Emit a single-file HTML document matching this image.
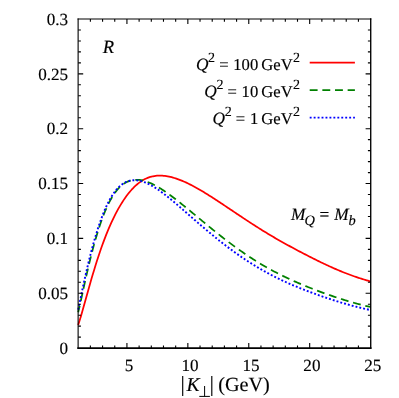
<!DOCTYPE html>
<html><head><meta charset="utf-8"><style>
html,body{margin:0;padding:0;background:#fff;}
svg{display:block;font-family:"Liberation Serif",serif;text-rendering:geometricPrecision;will-change:transform;}
</style></head><body>
<svg width="399" height="398" viewBox="0 0 399 398">
<rect width="399" height="398" fill="#fff"/>
<g fill="none" stroke-width="1.75" stroke-linejoin="round">
<path d="M78.20,324.94 L79.54,320.84 L80.87,316.42 L82.21,311.80 L83.54,307.06 L84.88,302.26 L86.21,297.45 L87.55,292.66 L88.88,287.91 L90.22,283.22 L91.55,278.61 L92.89,274.08 L94.22,269.65 L95.56,265.32 L96.89,261.09 L98.23,256.96 L99.56,252.95 L100.90,249.06 L102.23,245.29 L103.57,241.63 L104.90,238.10 L106.24,234.68 L107.57,231.38 L108.91,228.19 L110.24,225.12 L111.58,222.16 L112.91,219.30 L114.25,216.56 L115.58,213.92 L116.92,211.38 L118.25,208.94 L119.59,206.60 L120.93,204.35 L122.26,202.20 L123.60,200.14 L124.93,198.18 L126.27,196.30 L127.60,194.52 L128.94,192.83 L130.27,191.23 L131.61,189.71 L132.94,188.28 L134.28,186.94 L135.61,185.68 L136.95,184.50 L138.28,183.40 L139.62,182.39 L140.95,181.45 L142.29,180.59 L143.62,179.80 L144.96,179.08 L146.29,178.44 L147.63,177.87 L148.96,177.37 L150.30,176.94 L151.63,176.57 L152.97,176.27 L154.30,176.02 L155.64,175.83 L156.97,175.70 L158.31,175.62 L159.64,175.59 L160.98,175.61 L162.32,175.67 L163.65,175.78 L164.99,175.92 L166.32,176.11 L167.66,176.33 L168.99,176.59 L170.33,176.89 L171.66,177.22 L173.00,177.58 L174.33,177.97 L175.67,178.39 L177.00,178.84 L178.34,179.31 L179.67,179.81 L181.01,180.34 L182.34,180.88 L183.68,181.45 L185.01,182.05 L186.35,182.66 L187.68,183.29 L189.02,183.94 L190.35,184.61 L191.69,185.30 L193.02,186.00 L194.36,186.72 L195.69,187.46 L197.03,188.20 L198.36,188.96 L199.70,189.74 L201.03,190.52 L202.37,191.31 L203.71,192.12 L205.04,192.93 L206.38,193.75 L207.71,194.58 L209.05,195.42 L210.38,196.26 L211.72,197.11 L213.05,197.97 L214.39,198.83 L215.72,199.70 L217.06,200.57 L218.39,201.44 L219.73,202.32 L221.06,203.20 L222.40,204.09 L223.73,204.97 L225.07,205.86 L226.40,206.75 L227.74,207.65 L229.07,208.54 L230.41,209.43 L231.74,210.33 L233.08,211.22 L234.41,212.12 L235.75,213.02 L237.08,213.91 L238.42,214.80 L239.75,215.70 L241.09,216.59 L242.42,217.47 L243.76,218.36 L245.09,219.24 L246.43,220.12 L247.77,221.00 L249.10,221.87 L250.44,222.75 L251.77,223.61 L253.11,224.48 L254.44,225.33 L255.78,226.19 L257.11,227.04 L258.45,227.88 L259.78,228.73 L261.12,229.56 L262.45,230.39 L263.79,231.22 L265.12,232.04 L266.46,232.85 L267.79,233.66 L269.13,234.47 L270.46,235.26 L271.80,236.06 L273.13,236.84 L274.47,237.62 L275.80,238.40 L277.14,239.17 L278.47,239.94 L279.81,240.70 L281.14,241.45 L282.48,242.20 L283.81,242.95 L285.15,243.69 L286.48,244.43 L287.82,245.16 L289.16,245.89 L290.49,246.62 L291.83,247.34 L293.16,248.06 L294.50,248.78 L295.83,249.49 L297.17,250.20 L298.50,250.90 L299.84,251.60 L301.17,252.30 L302.51,253.00 L303.84,253.69 L305.18,254.38 L306.51,255.07 L307.85,255.75 L309.18,256.43 L310.52,257.11 L311.85,257.79 L313.19,258.46 L314.52,259.13 L315.86,259.80 L317.19,260.46 L318.53,261.12 L319.86,261.77 L321.20,262.42 L322.53,263.06 L323.87,263.70 L325.20,264.33 L326.54,264.96 L327.87,265.58 L329.21,266.20 L330.55,266.81 L331.88,267.41 L333.22,268.00 L334.55,268.59 L335.89,269.17 L337.22,269.75 L338.56,270.31 L339.89,270.87 L341.23,271.42 L342.56,271.96 L343.90,272.50 L345.23,273.02 L346.57,273.54 L347.90,274.05 L349.24,274.55 L350.57,275.04 L351.91,275.53 L353.24,276.00 L354.58,276.47 L355.91,276.93 L357.25,277.38 L358.58,277.82 L359.92,278.26 L361.25,278.69 L362.59,279.11 L363.92,279.52 L365.26,279.93 L366.59,280.32 L367.93,280.71 L369.26,281.10 L370.60,281.47" stroke="#ff0000"/>
<path d="M78.20,312.23 L79.54,306.53 L80.87,300.56 L82.21,294.47 L83.54,288.36 L84.88,282.30 L86.21,276.34 L87.55,270.51 L88.88,264.84 L90.22,259.34 L91.55,254.02 L92.89,248.89 L94.22,243.96 L95.56,239.23 L96.89,234.69 L98.23,230.35 L99.56,226.22 L100.90,222.29 L102.23,218.57 L103.57,215.06 L104.90,211.74 L106.24,208.62 L107.57,205.69 L108.91,202.95 L110.24,200.39 L111.58,198.01 L112.91,195.81 L114.25,193.78 L115.58,191.91 L116.92,190.20 L118.25,188.65 L119.59,187.25 L120.93,185.99 L122.26,184.87 L123.60,183.89 L124.93,183.03 L126.27,182.28 L127.60,181.65 L128.94,181.11 L130.27,180.68 L131.61,180.34 L132.94,180.08 L134.28,179.91 L135.61,179.82 L136.95,179.81 L138.28,179.86 L139.62,179.98 L140.95,180.17 L142.29,180.42 L143.62,180.72 L144.96,181.08 L146.29,181.50 L147.63,181.96 L148.96,182.47 L150.30,183.03 L151.63,183.63 L152.97,184.27 L154.30,184.95 L155.64,185.66 L156.97,186.41 L158.31,187.19 L159.64,188.00 L160.98,188.83 L162.32,189.69 L163.65,190.57 L164.99,191.47 L166.32,192.39 L167.66,193.33 L168.99,194.29 L170.33,195.27 L171.66,196.26 L173.00,197.26 L174.33,198.27 L175.67,199.30 L177.00,200.34 L178.34,201.38 L179.67,202.44 L181.01,203.50 L182.34,204.57 L183.68,205.65 L185.01,206.73 L186.35,207.81 L187.68,208.91 L189.02,210.00 L190.35,211.10 L191.69,212.20 L193.02,213.30 L194.36,214.41 L195.69,215.52 L197.03,216.62 L198.36,217.73 L199.70,218.84 L201.03,219.95 L202.37,221.06 L203.71,222.16 L205.04,223.27 L206.38,224.37 L207.71,225.47 L209.05,226.57 L210.38,227.66 L211.72,228.75 L213.05,229.83 L214.39,230.91 L215.72,231.99 L217.06,233.06 L218.39,234.12 L219.73,235.18 L221.06,236.24 L222.40,237.28 L223.73,238.32 L225.07,239.35 L226.40,240.38 L227.74,241.40 L229.07,242.41 L230.41,243.41 L231.74,244.41 L233.08,245.40 L234.41,246.38 L235.75,247.35 L237.08,248.31 L238.42,249.27 L239.75,250.21 L241.09,251.15 L242.42,252.08 L243.76,253.00 L245.09,253.91 L246.43,254.82 L247.77,255.71 L249.10,256.59 L250.44,257.47 L251.77,258.34 L253.11,259.19 L254.44,260.04 L255.78,260.88 L257.11,261.71 L258.45,262.53 L259.78,263.34 L261.12,264.14 L262.45,264.94 L263.79,265.72 L265.12,266.49 L266.46,267.26 L267.79,268.01 L269.13,268.76 L270.46,269.49 L271.80,270.22 L273.13,270.94 L274.47,271.65 L275.80,272.35 L277.14,273.04 L278.47,273.72 L279.81,274.40 L281.14,275.06 L282.48,275.72 L283.81,276.37 L285.15,277.02 L286.48,277.65 L287.82,278.28 L289.16,278.90 L290.49,279.52 L291.83,280.13 L293.16,280.73 L294.50,281.33 L295.83,281.92 L297.17,282.50 L298.50,283.08 L299.84,283.65 L301.17,284.22 L302.51,284.78 L303.84,285.33 L305.18,285.88 L306.51,286.42 L307.85,286.96 L309.18,287.50 L310.52,288.03 L311.85,288.55 L313.19,289.07 L314.52,289.58 L315.86,290.09 L317.19,290.60 L318.53,291.10 L319.86,291.60 L321.20,292.09 L322.53,292.58 L323.87,293.06 L325.20,293.54 L326.54,294.02 L327.87,294.49 L329.21,294.96 L330.55,295.42 L331.88,295.89 L333.22,296.34 L334.55,296.80 L335.89,297.25 L337.22,297.69 L338.56,298.13 L339.89,298.57 L341.23,299.00 L342.56,299.42 L343.90,299.85 L345.23,300.26 L346.57,300.67 L347.90,301.08 L349.24,301.47 L350.57,301.87 L351.91,302.25 L353.24,302.64 L354.58,303.01 L355.91,303.38 L357.25,303.74 L358.58,304.10 L359.92,304.45 L361.25,304.79 L362.59,305.13 L363.92,305.46 L365.26,305.78 L366.59,306.10 L367.93,306.40 L369.26,306.71 L370.60,307.00" stroke="#008000" stroke-dasharray="7.9 4.75" stroke-dashoffset="1.2"/>
<path d="M78.20,309.60 L79.54,303.22 L80.87,296.82 L82.21,290.48 L83.54,284.25 L84.88,278.17 L86.21,272.26 L87.55,266.52 L88.88,260.98 L90.22,255.63 L91.55,250.48 L92.89,245.52 L94.22,240.76 L95.56,236.18 L96.89,231.79 L98.23,227.60 L99.56,223.60 L100.90,219.81 L102.23,216.22 L103.57,212.82 L104.90,209.62 L106.24,206.62 L107.57,203.81 L108.91,201.18 L110.24,198.73 L111.58,196.47 L112.91,194.38 L114.25,192.45 L115.58,190.69 L116.92,189.09 L118.25,187.65 L119.59,186.36 L120.93,185.21 L122.26,184.20 L123.60,183.32 L124.93,182.57 L126.27,181.93 L127.60,181.41 L128.94,180.99 L130.27,180.66 L131.61,180.43 L132.94,180.30 L134.28,180.24 L135.61,180.26 L136.95,180.37 L138.28,180.54 L139.62,180.78 L140.95,181.09 L142.29,181.46 L143.62,181.89 L144.96,182.37 L146.29,182.91 L147.63,183.51 L148.96,184.15 L150.30,184.83 L151.63,185.57 L152.97,186.34 L154.30,187.15 L155.64,188.00 L156.97,188.88 L158.31,189.79 L159.64,190.73 L160.98,191.69 L162.32,192.68 L163.65,193.68 L164.99,194.71 L166.32,195.76 L167.66,196.82 L168.99,197.90 L170.33,198.99 L171.66,200.09 L173.00,201.20 L174.33,202.32 L175.67,203.45 L177.00,204.59 L178.34,205.74 L179.67,206.89 L181.01,208.04 L182.34,209.20 L183.68,210.36 L185.01,211.52 L186.35,212.69 L187.68,213.86 L189.02,215.02 L190.35,216.19 L191.69,217.35 L193.02,218.52 L194.36,219.68 L195.69,220.84 L197.03,222.00 L198.36,223.15 L199.70,224.31 L201.03,225.45 L202.37,226.60 L203.71,227.73 L205.04,228.87 L206.38,230.00 L207.71,231.12 L209.05,232.24 L210.38,233.35 L211.72,234.45 L213.05,235.55 L214.39,236.64 L215.72,237.72 L217.06,238.80 L218.39,239.87 L219.73,240.93 L221.06,241.98 L222.40,243.03 L223.73,244.06 L225.07,245.09 L226.40,246.11 L227.74,247.12 L229.07,248.12 L230.41,249.12 L231.74,250.10 L233.08,251.08 L234.41,252.04 L235.75,253.00 L237.08,253.95 L238.42,254.88 L239.75,255.81 L241.09,256.73 L242.42,257.64 L243.76,258.54 L245.09,259.43 L246.43,260.32 L247.77,261.19 L249.10,262.05 L250.44,262.90 L251.77,263.75 L253.11,264.58 L254.44,265.40 L255.78,266.22 L257.11,267.02 L258.45,267.82 L259.78,268.60 L261.12,269.38 L262.45,270.14 L263.79,270.90 L265.12,271.65 L266.46,272.39 L267.79,273.11 L269.13,273.83 L270.46,274.54 L271.80,275.24 L273.13,275.93 L274.47,276.61 L275.80,277.28 L277.14,277.95 L278.47,278.60 L279.81,279.25 L281.14,279.89 L282.48,280.52 L283.81,281.14 L285.15,281.76 L286.48,282.37 L287.82,282.97 L289.16,283.57 L290.49,284.15 L291.83,284.73 L293.16,285.31 L294.50,285.88 L295.83,286.44 L297.17,286.99 L298.50,287.54 L299.84,288.09 L301.17,288.63 L302.51,289.16 L303.84,289.68 L305.18,290.20 L306.51,290.72 L307.85,291.23 L309.18,291.74 L310.52,292.24 L311.85,292.73 L313.19,293.22 L314.52,293.71 L315.86,294.19 L317.19,294.67 L318.53,295.14 L319.86,295.61 L321.20,296.07 L322.53,296.53 L323.87,296.99 L325.20,297.44 L326.54,297.89 L327.87,298.33 L329.21,298.77 L330.55,299.21 L331.88,299.64 L333.22,300.07 L334.55,300.50 L335.89,300.92 L337.22,301.34 L338.56,301.75 L339.89,302.16 L341.23,302.56 L342.56,302.96 L343.90,303.35 L345.23,303.74 L346.57,304.13 L347.90,304.51 L349.24,304.88 L350.57,305.25 L351.91,305.61 L353.24,305.97 L354.58,306.32 L355.91,306.66 L357.25,307.00 L358.58,307.34 L359.92,307.66 L361.25,307.99 L362.59,308.30 L363.92,308.61 L365.26,308.91 L366.59,309.21 L367.93,309.50 L369.26,309.79 L370.60,310.06" stroke="#0000ff" stroke-width="1.9" stroke-dasharray="1.9 2.04"/>
<path d="M309.7,62.7H354.9" stroke="#ff0000"/>
<path d="M309.7,90.2H354.9" stroke="#008000" stroke-dasharray="7.9 4.75"/>
<path d="M309.7,117.6H354.9" stroke="#0000ff" stroke-width="1.9" stroke-dasharray="1.9 2.05"/>
</g>
<g stroke="#000" fill="none" stroke-linecap="square">
<path d="M78.12,19H370.72" stroke-width="1.15"/>
<path d="M78.12,19V348.1" stroke-width="1.1"/>
<path d="M78.12,348.1H370.72" stroke-width="1.6"/>
<path d="M370.72,19V348.1" stroke-width="1.35"/>
</g>
<path d="M78.20,337.13h2.7M370.60,337.13h-2.7M78.20,326.16h2.7M370.60,326.16h-2.7M78.20,315.19h2.7M370.60,315.19h-2.7M78.20,304.22h2.7M370.60,304.22h-2.7M78.20,293.25h5.0M370.60,293.25h-5.0M78.20,282.28h2.7M370.60,282.28h-2.7M78.20,271.31h2.7M370.60,271.31h-2.7M78.20,260.34h2.7M370.60,260.34h-2.7M78.20,249.37h2.7M370.60,249.37h-2.7M78.20,238.40h5.0M370.60,238.40h-5.0M78.20,227.43h2.7M370.60,227.43h-2.7M78.20,216.46h2.7M370.60,216.46h-2.7M78.20,205.49h2.7M370.60,205.49h-2.7M78.20,194.52h2.7M370.60,194.52h-2.7M78.20,183.55h5.0M370.60,183.55h-5.0M78.20,172.58h2.7M370.60,172.58h-2.7M78.20,161.61h2.7M370.60,161.61h-2.7M78.20,150.64h2.7M370.60,150.64h-2.7M78.20,139.67h2.7M370.60,139.67h-2.7M78.20,128.70h5.0M370.60,128.70h-5.0M78.20,117.73h2.7M370.60,117.73h-2.7M78.20,106.76h2.7M370.60,106.76h-2.7M78.20,95.79h2.7M370.60,95.79h-2.7M78.20,84.82h2.7M370.60,84.82h-2.7M78.20,73.85h5.0M370.60,73.85h-5.0M78.20,62.88h2.7M370.60,62.88h-2.7M78.20,51.91h2.7M370.60,51.91h-2.7M78.20,40.94h2.7M370.60,40.94h-2.7M78.20,29.97h2.7M370.60,29.97h-2.7M90.38,348.10v-2.7M90.38,19.00v2.7M102.57,348.10v-2.7M102.57,19.00v2.7M114.75,348.10v-2.7M114.75,19.00v2.7M126.93,348.10v-5.0M126.93,19.00v5.0M139.12,348.10v-2.7M139.12,19.00v2.7M151.30,348.10v-2.7M151.30,19.00v2.7M163.48,348.10v-2.7M163.48,19.00v2.7M175.67,348.10v-2.7M175.67,19.00v2.7M187.85,348.10v-5.0M187.85,19.00v5.0M200.03,348.10v-2.7M200.03,19.00v2.7M212.22,348.10v-2.7M212.22,19.00v2.7M224.40,348.10v-2.7M224.40,19.00v2.7M236.58,348.10v-2.7M236.58,19.00v2.7M248.77,348.10v-5.0M248.77,19.00v5.0M260.95,348.10v-2.7M260.95,19.00v2.7M273.13,348.10v-2.7M273.13,19.00v2.7M285.32,348.10v-2.7M285.32,19.00v2.7M297.50,348.10v-2.7M297.50,19.00v2.7M309.68,348.10v-5.0M309.68,19.00v5.0M321.87,348.10v-2.7M321.87,19.00v2.7M334.05,348.10v-2.7M334.05,19.00v2.7M346.23,348.10v-2.7M346.23,19.00v2.7M358.42,348.10v-2.7M358.42,19.00v2.7" stroke="#000" stroke-width="1.1" fill="none"/>
<g font-size="17.1px" fill="#000" stroke="#000" stroke-width="0.15">
<text x="68.1" y="353.80" text-anchor="end">0</text>
<text x="68.1" y="298.95" text-anchor="end">0.05</text>
<text x="68.1" y="244.10" text-anchor="end">0.1</text>
<text x="68.1" y="189.25" text-anchor="end">0.15</text>
<text x="68.1" y="134.40" text-anchor="end">0.2</text>
<text x="68.1" y="79.55" text-anchor="end">0.25</text>
<text x="68.1" y="24.70" text-anchor="end">0.3</text>
<text x="129.13" y="370.5" text-anchor="middle">5</text>
<text x="190.05" y="370.5" text-anchor="middle">10</text>
<text x="250.97" y="370.5" text-anchor="middle">15</text>
<text x="311.88" y="370.5" text-anchor="middle">20</text>
<text x="372.80" y="370.5" text-anchor="middle">25</text>
</g>
<g font-size="16.6px" fill="#000" stroke="#000" stroke-width="0.15">
<text x="102.7" y="53" font-style="italic" font-size="18.6px">R</text>
<text y="69.80"><tspan x="195.90" font-style="italic" font-size="17.3px">Q</tspan><tspan x="208.10" dy="-8" font-size="14px">2</tspan><tspan x="219.20" dy="8">=</tspan><tspan x="233.30">100</tspan><tspan x="261.30">GeV</tspan><tspan x="293.00" dy="-8" font-size="14px">2</tspan></text>
<text y="96.95"><tspan x="204.20" font-style="italic" font-size="17.3px">Q</tspan><tspan x="216.40" dy="-8" font-size="14px">2</tspan><tspan x="227.50" dy="8">=</tspan><tspan x="241.60">10</tspan><tspan x="261.30">GeV</tspan><tspan x="293.00" dy="-8" font-size="14px">2</tspan></text>
<text y="124.10"><tspan x="212.50" font-style="italic" font-size="17.3px">Q</tspan><tspan x="224.70" dy="-8" font-size="14px">2</tspan><tspan x="235.80" dy="8">=</tspan><tspan x="249.90">1</tspan><tspan x="261.30">GeV</tspan><tspan x="293.00" dy="-8" font-size="14px">2</tspan></text>

<text x="291" y="220.4" font-size="17.3px"><tspan font-style="italic">M</tspan><tspan dx="-0.9" dy="4.6" font-size="14.4px" font-style="italic">Q</tspan><tspan dx="0.3" dy="-4.6"> = </tspan><tspan dx="0.6" font-style="italic">M</tspan><tspan dy="4.6" font-size="14.4px" font-style="italic">b</tspan></text>
</g>
<g font-size="20px" fill="#000" stroke="#000" stroke-width="0.15">
<path d="M182.7,376V395.9M211.8,376V395.9" stroke="#000" stroke-width="1.15" fill="none"/>
<text x="186.6" y="390.85" font-style="italic" font-size="19.6px">K</text>
<path d="M199.3,396.4H209.9M204.6,386V396.4" stroke="#000" stroke-width="1.0" fill="none"/>
<text x="218.2" y="390.85" font-size="20.2px">(GeV)</text>
</g>
</svg>
</body></html>
